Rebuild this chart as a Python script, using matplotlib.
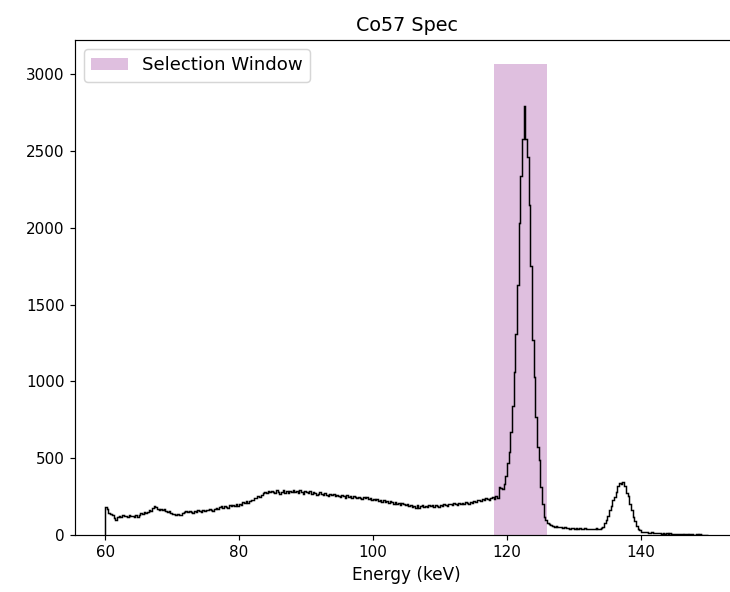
import numpy as np
import matplotlib
matplotlib.use('Agg')
import matplotlib.pyplot as plt

# histogram binning (keV)
E_MIN = 60.0
E_MAX = 150.0
BIN_WIDTH = 0.25

# counts per 0.25 keV bin, 60 -> 150 keV (20 bins = 5 keV per row)
counts = [
    185, 172, 146, 138, 128, 112, 98, 116, 124, 118, 127, 121, 125, 117, 129, 122, 126, 119, 131, 118,
    133, 140, 138, 147, 143, 152, 163, 158, 174, 186, 181, 170, 166, 172, 161, 168, 157, 150, 153, 146,
    138, 134, 129, 136, 131, 127, 140, 148, 154, 147, 159, 152, 146, 158, 150, 162, 155, 149, 163, 157,
    166, 160, 171, 163, 158, 169, 176, 167, 182, 188, 179, 191, 184, 178, 193, 186, 195, 188, 199, 192,
    202, 196, 214, 207, 219, 211, 224, 230, 226, 243, 238, 251, 246, 263, 272, 280, 276, 284, 279, 287,
    281, 274, 290, 283, 268, 279, 292, 276, 285, 271, 288, 280, 295, 277, 286, 274, 291, 282, 269, 284,
    277, 271, 286, 265, 279, 273, 262, 270, 281, 266, 258, 272, 263, 255, 268, 259, 266, 251, 262, 256,
    249, 261, 253, 244, 258, 247, 255, 241, 252, 246, 238, 250, 243, 236, 248, 239, 245, 233, 241, 229,
    237, 226, 234, 222, 229, 217, 231, 214, 224, 208, 219, 212, 205, 216, 202, 210, 197, 207, 199, 193,
    204, 188, 196, 183, 192, 179, 194, 176, 187, 195, 181, 190, 184, 198, 186, 193, 180, 195, 189, 184,
    197, 190, 201, 193, 186, 199, 205, 196, 208, 202, 197, 211, 204, 209, 199, 214, 207, 203, 218, 210,
    221, 213, 226, 231, 219, 234, 228, 240, 232, 225, 238, 246, 236, 251, 244, 313, 308, 300, 330, 382,
    470, 542, 670, 840, 1060, 1310, 1630, 2030, 2340, 2580, 2790, 2580, 2460, 2150, 1750, 1270, 1030, 770, 575, 490,
    315, 205, 120, 95, 78, 70, 64, 58, 55, 61, 52, 49, 54, 46, 50, 44, 48, 42, 47, 43,
    40, 45, 38, 43, 41, 37, 44, 40, 39, 42, 38, 41, 36, 43, 40, 38, 45, 55, 75, 100,
    122, 160, 188, 228, 246, 282, 316, 338, 330, 345, 318, 272, 252, 200, 162, 118, 92, 60, 38, 30,
    22, 20, 18, 21, 16, 15, 18, 13, 12, 14, 10, 12, 9, 11, 8, 12, 7, 10, 6, 9,
    5, 8, 4, 7, 6, 3, 5, 7, 2, 4, 6, 3, 1, 5, 2, 4, 3, 0, 2, 1,
]

# selection window around the 122 keV photopeak
window_lo = 118.0
window_hi = 126.0

counts = np.array(counts)
edges = np.arange(E_MIN, E_MAX + BIN_WIDTH / 2, BIN_WIDTH)

DPI = 107
fig = plt.figure(figsize=(730 / DPI, 592 / DPI), dpi=DPI)
ax = fig.add_axes([75 / 730, 57 / 592, 663 / 730, 495 / 592])

ax.fill_between([window_lo, window_hi], 0, 1.1 * counts.max(),
                color='purple', alpha=0.25, linewidth=0, label='Selection Window')
ax.stairs(counts, edges, color='black', linewidth=1.0)

ax.set_title('Co57 Spec', fontsize=12.9)
ax.set_xlabel('Energy (keV)', fontsize=11.4)
ax.tick_params(labelsize=10.2)
ax.legend(loc='upper left', fontsize=12.2)

fig.savefig('out.png', dpi=DPI)
